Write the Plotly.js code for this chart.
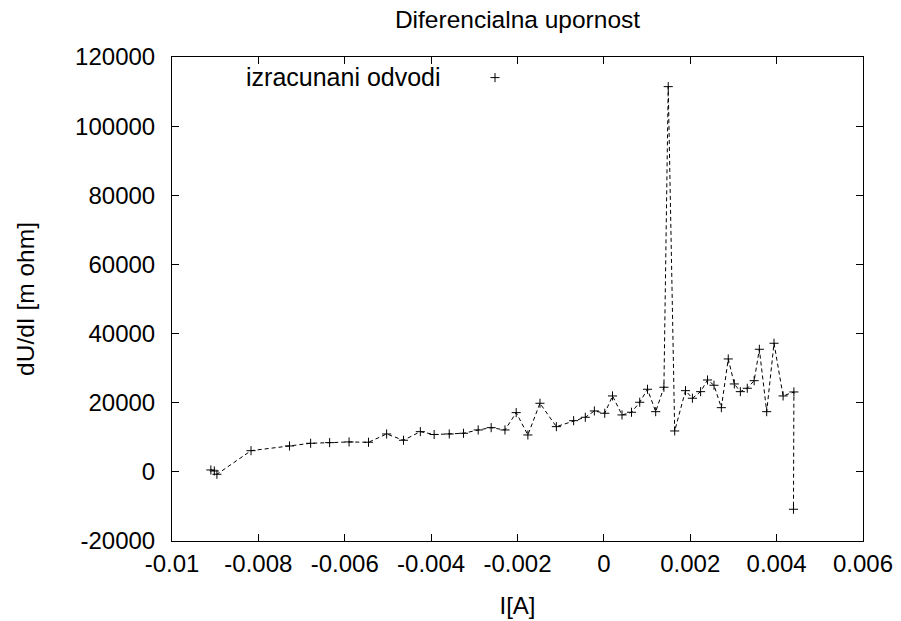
<!DOCTYPE html>
<html>
<head>
<meta charset="utf-8">
<script src="https://cdn.plot.ly/plotly-3.0.1.min.js"></script>
<style>html,body{margin:0;padding:0;background:#fff;}#chart{width:901px;height:621px;}</style>
</head>
<body>
<div id="chart"></div>
<script>
// Data
const currentA = [
  -0.00910, -0.00902, -0.00896, -0.00817, -0.00728, -0.00679, -0.00635, -0.00590,
  -0.00545, -0.00503, -0.00464, -0.00425, -0.00393, -0.00358, -0.00325, -0.00291,
  -0.00261, -0.00229, -0.00203, -0.00176, -0.00148, -0.00110, -0.00070, -0.00043,
  -0.00022, 0.00002, 0.00020, 0.00042, 0.00064, 0.00083, 0.00101, 0.00120,
  0.00139, 0.00149, 0.00164, 0.00189, 0.00205, 0.00224, 0.00240, 0.00255,
  0.00272, 0.00288, 0.00302, 0.00316, 0.00332, 0.00348, 0.00360, 0.00377,
  0.00394, 0.00415, 0.00440, 0.00439
];
const dUdI = [
  550, 260, -700, 6130, 7490, 8270, 8450, 8650,
  8560, 10960, 9140, 11630, 10800, 10960, 11160, 12120,
  12790, 12120, 17130, 10670, 19840, 13080, 14810, 15790,
  17620, 16950, 21960, 16460, 17240, 20130, 23890, 17410,
  24470, 111430, 11830, 23490, 21290, 23200, 26580, 25050,
  18570, 32660, 25430, 23200, 24180, 26380, 35460, 17410,
  37200, 21960, 23110, -10820
];
const xTickVals = [-0.01, -0.008, -0.006, -0.004, -0.002, 0, 0.002, 0.004, 0.006];
const xTickText = ["-0.01", "-0.008", "-0.006", "-0.004", "-0.002", "0", "0.002", "0.004", "0.006"];
const yTickVals = [-20000, 0, 20000, 40000, 60000, 80000, 100000, 120000];
const yTickText = ["-20000", "0", "20000", "40000", "60000", "80000", "100000", "120000"];
const seriesName = "izracunani odvodi";

const FONT = "Liberation Sans, Arial, Helvetica, sans-serif";

const traces = [
  {
    x: currentA, y: dUdI, type: "scatter", mode: "lines",
    line: {color: "#000", width: 1, dash: "4px,3px"},
    showlegend: false, hoverinfo: "skip"
  },
  {
    x: currentA, y: dUdI, type: "scatter", mode: "markers",
    marker: {symbol: "cross-thin", size: 6.5, color: "#000", line: {color: "#000", width: 1}},
    name: "", showlegend: true
  }
];

const axisCommon = {
  showgrid: false, zeroline: false, showline: true, linecolor: "#000", linewidth: 1,
  mirror: "allticks", ticks: "inside", ticklen: 7, tickwidth: 1, tickcolor: "#000",
  tickfont: {family: FONT, size: 24, color: "#000"}, tickmode: "array"
};

const layout = {
  width: 901, height: 621,
  paper_bgcolor: "#fff", plot_bgcolor: "#fff",
  margin: {l: 172, r: 38, t: 57, b: 80, autoexpand: false},
  font: {family: FONT, size: 24, color: "#000"},
  title: {
    text: "Diferencialna upornost", xref: "paper", x: 0.5, xanchor: "center",
    yref: "container", y: 1 - 19 / 621, yanchor: "middle",
    font: {family: FONT, size: 24.5, color: "#000"}
  },
  xaxis: Object.assign({}, axisCommon, {
    range: [-0.01, 0.006], tickvals: xTickVals, ticktext: xTickText,
    ticklabelstandoff: 1,
    title: {text: "I[A]", standoff: 21, font: {family: FONT, size: 24, color: "#000"}}
  }),
  yaxis: Object.assign({}, axisCommon, {
    range: [-20000, 120000], tickvals: yTickVals, ticktext: yTickText,
    ticklabelstandoff: 11,
    title: {text: "dU/dI [m ohm]", standoff: 33, font: {family: FONT, size: 24.5, color: "#000"}}
  }),
  annotations: [{
    text: seriesName, xref: "paper", yref: "paper",
    x: (443 - 172) / 691, xanchor: "right", y: (541 - 77) / 484, yanchor: "middle",
    showarrow: false, font: {family: FONT, size: 25, color: "#000"}
  }],
  showlegend: true,
  legend: {
    x: (475 - 172) / 691, xanchor: "left", y: (541 - 78) / 484, yanchor: "middle",
    bgcolor: "rgba(0,0,0,0)", borderwidth: 0,
    font: {family: FONT, size: 24, color: "#000"}
  },
  hovermode: false
};

Plotly.newPlot("chart", traces, layout, {displayModeBar: false, staticPlot: true});
</script>
</body>
</html>
